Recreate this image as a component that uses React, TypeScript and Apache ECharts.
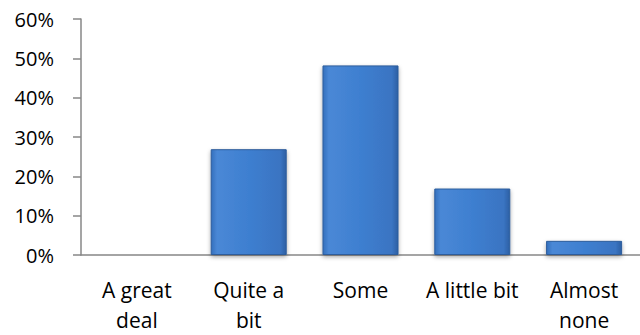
import React, { useEffect, useRef } from "react";
import * as echarts from "echarts";

const categories = ["A great\ndeal", "Quite a\nbit", "Some", "A little bit", "Almost\nnone"];
const values = [0, 0.269, 0.482, 0.169, 0.036];
const yTicks = [0, 0.1, 0.2, 0.3, 0.4, 0.5, 0.6];

const FONT = "Open Sans";

export default function App() {
  const ref = useRef<HTMLDivElement>(null);
  useEffect(() => {
    if (!ref.current) return;
    const chart = echarts.init(ref.current, undefined, { renderer: "svg" });
    chart.setOption({
      animation: false,
      grid: { left: 81, top: 19, right: 0, bottom: 78, containLabel: false },
      xAxis: {
        type: "category",
        data: categories,
        axisLine: { lineStyle: { color: "#878787", width: 1.5 } },
        axisTick: { show: false },
        axisLabel: {
          color: "#000",
          fontFamily: FONT,
          fontSize: 21,
          lineHeight: 30,
          margin: 20,
          interval: 0,
        },
      },
      yAxis: {
        type: "value",
        min: yTicks[0],
        max: yTicks[yTicks.length - 1],
        interval: 0.1,
        axisLine: { show: true, lineStyle: { color: "#878787", width: 1.5 } },
        axisTick: { show: true, inside: false, length: 8, lineStyle: { color: "#878787", width: 1.5 } },
        splitLine: { show: false },
        axisLabel: {
          color: "#000",
          fontFamily: FONT,
          fontSize: 20,
          margin: 27,
          formatter: (v: number) => Math.round(v * 100) + "%",
        },
      },
      series: [
        {
          type: "bar",
          data: values,
          barWidth: "68%",
          itemStyle: {
            color: new echarts.graphic.LinearGradient(0, 0, 1, 0, [
              { offset: 0, color: "#3470bd" },
              { offset: 0.08, color: "#4a88d6" },
              { offset: 0.5, color: "#3e7fd0" },
              { offset: 0.92, color: "#3a74c2" },
              { offset: 1, color: "#2c5fa3" },
            ]),
            borderColor: "#2d5d9c",
            borderWidth: 1,
            shadowColor: "rgba(0,0,0,0.35)",
            shadowBlur: 4,
            shadowOffsetY: 2,
          },
        },
      ],
    });
    return () => chart.dispose();
  }, []);
  return <div ref={ref} style={{ width: 640, height: 335, position: "absolute", left: 0, top: 0 }} />;
}
